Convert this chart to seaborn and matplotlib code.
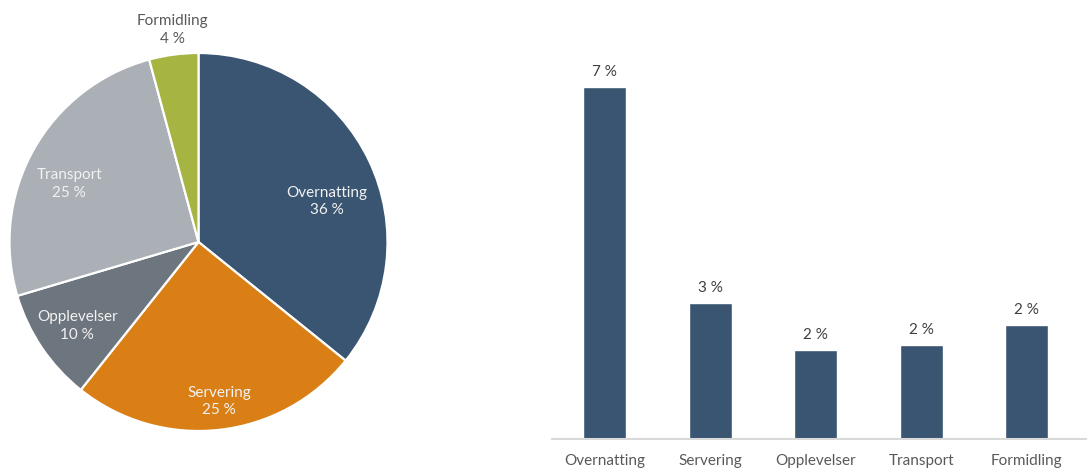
import numpy as np
import matplotlib
matplotlib.use("Agg")
import matplotlib.pyplot as plt
import seaborn as sns

# ---- data ----
pie_categories = ["Overnatting", "Servering", "Opplevelser", "Transport", "Formidling"]
pie_values = [35.8, 24.9, 9.7, 25.4, 4.2]
pie_labels = ["36 %", "25 %", "10 %", "25 %", "4 %"]

bar_categories = ["Overnatting", "Servering", "Opplevelser", "Transport", "Formidling"]
bar_values = [7.0, 2.7, 1.77, 1.87, 2.27]
bar_labels = ["7 %", "3 %", "2 %", "2 %", "2 %"]

# ---- style ----
sns.set_theme(style="white")
plt.rcParams["font.family"] = ["Lato", "DejaVu Sans"]

pie_colors = ["#3A5572", "#D97F16", "#6D757E", "#AAB0B5", "#A6B441"]
bar_color = "#3A5572"
text_gray = "#595959"

W, H = 1087, 470
fig = plt.figure(figsize=(W / 100, H / 100), dpi=100)
fig.patch.set_facecolor("white")

# ---- pie ----
cx, cy, r = 198.5, 242, 189
ax1 = fig.add_axes([(cx - r) / W, (H - cy - r) / H, 2 * r / W, 2 * r / H])
wedges, _ = ax1.pie(pie_values, colors=pie_colors, startangle=90, counterclock=False,
                    radius=1.0,
                    wedgeprops=dict(edgecolor="white", linewidth=1.6))
ax1.set_xlim(-1, 1)
ax1.set_ylim(-1, 1)
ax1.set_aspect("equal")
ax1.axis("off")

label_dist = [0.71, 0.85, 0.78, 0.75, 1.13]
label_angle_shift = [-8, 1, 0.7, 5, -0.6]
label_colors = ["#F2F2F2", "#F2F2F2", "#F2F2F2", "#F2F2F2", text_gray]
for w, cat, lab, d, sh, c in zip(wedges, pie_categories, pie_labels, label_dist,
                                  label_angle_shift, label_colors):
    mid = np.deg2rad((w.theta1 + w.theta2) / 2 + sh)
    ax1.text(d * np.cos(mid), d * np.sin(mid), f"{cat}\n{lab}", ha="center", va="center",
             color=c, fontsize=11, linespacing=1.3, clip_on=False)

# ---- bars ----
x0, y_base, y_top = 552, 439, 40
ax2 = fig.add_axes([x0 / W, (H - y_base) / H, (W - x0) / W, (y_base - y_top) / H])
sns.barplot(x=bar_categories, y=bar_values, color=bar_color, width=0.41,
            saturation=1, ax=ax2)
ax2.set_xlim(-0.5, 4.57)
ax2.set_ylim(0, 7.0 * (y_base - y_top) / 352)
for s in ["top", "right", "left"]:
    ax2.spines[s].set_visible(False)
ax2.spines["bottom"].set_color("#D9D9D9")
ax2.spines["bottom"].set_linewidth(1.5)
ax2.set_yticks([])
ax2.tick_params(axis="x", length=0, pad=11, labelsize=11, labelcolor=text_gray)
ax2.set_xlabel("")
ax2.set_ylabel("")
ax2.bar_label(ax2.containers[0], labels=bar_labels, padding=6, fontsize=11,
              color="#404040")

fig.savefig("out.png", dpi=100, facecolor="white")
